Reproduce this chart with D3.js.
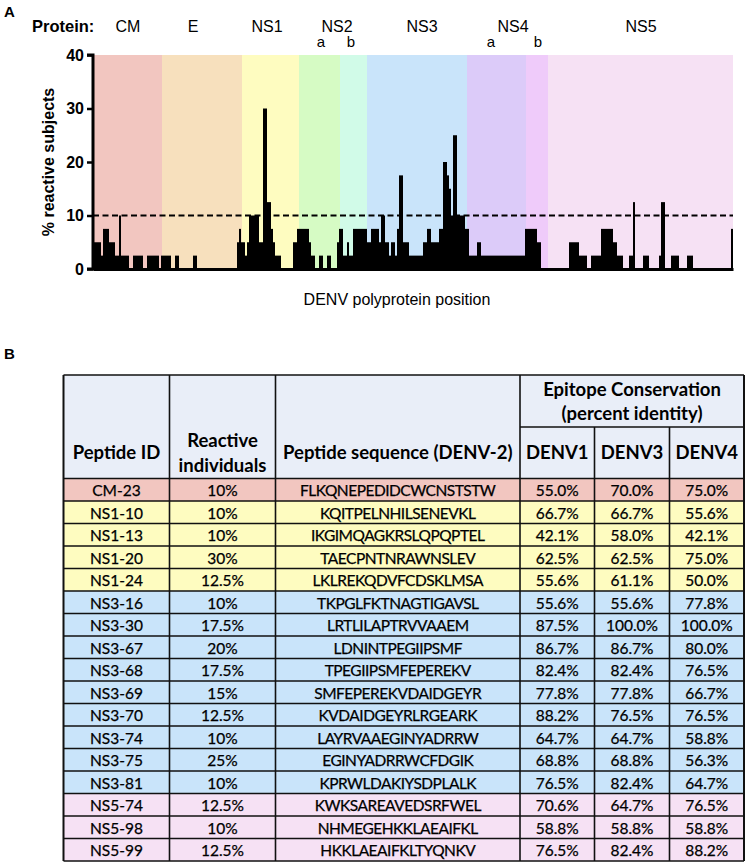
<!DOCTYPE html>
<html>
<head>
<meta charset="utf-8">
<script src="https://cdn.jsdelivr.net/npm/d3@7"></script>
<style>
  body { margin: 0; background: #fff; }
  .axisA text { font-family: "Liberation Sans", Arial, sans-serif; }
  .tbl text { font-family: Lato, "Open Sans", sans-serif; fill: #000; }
</style>
</head>
<body>
<div id="chart"></div>
<script>
// ---------- Panel A data ----------
// protein regions along the peptide index (0..320)
var regionNames = ["CM", "E", "NS1", "NS2a", "NS2b", "NS3", "NS4a", "NS4b", "NS5"];
var regionStart = [0, 34.5, 74.5, 103, 123.5, 137, 187, 216.5, 227.5];
var regionEnd = [34.5, 74.5, 103, 123.5, 137, 187, 216.5, 227.5, 320];
var regionColors = ["#f2c6c0", "#f7e0bd", "#fefcc0", "#d6fbc4", "#d1fbe8", "#c9e4fa", "#dccbf9", "#efcbfa", "#f6e1f4"];

// protein labels above the chart
var proteinLabels = ["CM", "E", "NS1", "NS2", "NS3", "NS4", "NS5"];
var proteinLabelPos = [17.5, 50, 87, 122, 164.5, 210, 274];
var subLabels = ["a", "b", "a", "b"];
var subLabelPos = [114, 129, 199, 222.5];

// % reactive subjects, as steps: value holds from runStart[i] to runStart[i+1]
var runStart = [0,4,5,8,11,13,14,18,20,25,27,33,34,39,41,43,50,52,72,73,74,76,77,78,83,85,87,89,90,91,94,100,102,108,109,111,113,115,117,119,122,123,125,127,128,130,137,139,143,144,146,148,149,151,152,153,155,158,165,167,169,173,175,177,178,179,180,182,186,188,192,194,216,222,224,238,243,247,249,254,260,262,265,268,270,271,275,278,283,284,286,289,293,297,300,319];
var runValue = [5,2.5,7.5,5,2.5,10,2.5,0,2.5,0,2.5,0,2.5,0,2.5,0,2.5,0,5,7.5,5,2.5,5,10,5,30,12.5,7.5,5,2.5,0,5,7.5,5,2.5,0,2.5,0,2.5,0,5,7.5,2.5,5,2.5,7.5,5,7.5,5,10,5,2.5,5,2.5,7.5,17.5,5,2.5,5,7.5,5,7.5,20,17.5,15,10,25,10,7.5,2.5,5,2.5,7.5,5,0,5,2.5,0,2.5,7.5,5,2.5,0,2.5,12.5,0,2.5,0,2.5,12.5,0,2.5,0,2.5,0,7.5];
var lastPosition = 320;
var yTicks = [0, 10, 20, 30, 40];
var threshold = 10;

// ---------- Panel B data ----------
var peptideIds = ["CM-23","NS1-10","NS1-13","NS1-20","NS1-24","NS3-16","NS3-30","NS3-67","NS3-68","NS3-69","NS3-70","NS3-74","NS3-75","NS3-81","NS5-74","NS5-98","NS5-99"];
var reactive = ["10%","10%","10%","30%","12.5%","10%","17.5%","20%","17.5%","15%","12.5%","10%","25%","10%","12.5%","10%","12.5%"];
var sequences = ["FLKQNEPEDIDCWCNSTSTW","KQITPELNHILSENEVKL","IKGIMQAGKRSLQPQPTEL","TAECPNTNRAWNSLEV","LKLREKQDVFCDSKLMSA","TKPGLFKTNAGTIGAVSL","LRTLILAPTRVVAAEM","LDNINTPEGIIPSMF","TPEGIIPSMFEPEREKV","SMFEPEREKVDAIDGEYR","KVDAIDGEYRLRGEARK","LAYRVAAEGINYADRRW","EGINYADRRWCFDGIK","KPRWLDAKIYSDPLALK","KWKSAREAVEDSRFWEL","NHMEGEHKKLAEAIFKL","HKKLAEAIFKLTYQNKV"];
var denv1 = ["55.0%","66.7%","42.1%","62.5%","55.6%","55.6%","87.5%","86.7%","82.4%","77.8%","88.2%","64.7%","68.8%","76.5%","70.6%","58.8%","76.5%"];
var denv3 = ["70.0%","66.7%","58.0%","62.5%","61.1%","55.6%","100.0%","86.7%","82.4%","77.8%","76.5%","64.7%","68.8%","82.4%","64.7%","58.8%","82.4%"];
var denv4 = ["75.0%","55.6%","42.1%","75.0%","50.0%","77.8%","100.0%","80.0%","76.5%","66.7%","76.5%","58.8%","56.3%","64.7%","76.5%","58.8%","88.2%"];
var rowProtein = ["CM","NS1","NS1","NS1","NS1","NS3","NS3","NS3","NS3","NS3","NS3","NS3","NS3","NS3","NS5","NS5","NS5"];

//SVG size
var svgWidth = 749;
var svgHeight = 865;

var svg = d3.select("#chart")
    .append("svg")
    .attr("width", svgWidth)
    .attr("height", svgHeight);

// ================= Panel A =================
var margin = { top: 55, left: 93 };
var chartWidth = 640;
var chartHeight = 214;

var chartGroup = svg.append("g")
    .attr("class", "axisA")
    .attr("transform", `translate(${margin.left}, ${margin.top})`);

var xScale = d3.scaleLinear()
    .domain([0, lastPosition])
    .range([0, chartWidth]);

var yScale = d3.scaleLinear()
    .domain([0, 40])
    .range([chartHeight, 0]);

// coloured protein backgrounds
chartGroup.selectAll(".region")
    .data(regionNames)
    .enter()
    .append("rect")
    .attr("class", "region")
    .attr("x", (d, i) => xScale(regionStart[i]))
    .attr("width", (d, i) => xScale(regionEnd[i]) - xScale(regionStart[i]))
    .attr("y", yScale(40))
    .attr("height", yScale(0) - yScale(40))
    .attr("fill", (d, i) => regionColors[i]);

// bars (steps)
var runs = runStart.map((s, i) => ({
    start: s,
    end: i < runStart.length - 1 ? runStart[i + 1] : lastPosition,
    value: runValue[i]
})).filter(d => d.value > 0);

chartGroup.selectAll(".bar")
    .data(runs)
    .enter()
    .append("rect")
    .attr("class", "bar")
    .attr("x", d => xScale(d.start))
    .attr("width", d => xScale(d.end) - xScale(d.start))
    .attr("y", d => yScale(d.value))
    .attr("height", d => yScale(0) - yScale(d.value))
    .attr("fill", "#000");

// 10% threshold
chartGroup.append("line")
    .attr("x1", 0)
    .attr("x2", chartWidth)
    .attr("y1", yScale(threshold))
    .attr("y2", yScale(threshold))
    .attr("stroke", "#000")
    .attr("stroke-width", 2)
    .attr("stroke-dasharray", "6,3.5");

// axes
var leftAxis = d3.axisLeft(yScale).tickValues(yTicks).tickSize(6).tickPadding(3);
var yAxisG = chartGroup.append("g").call(leftAxis);
yAxisG.select(".domain").attr("stroke-width", 3).attr("d", `M-6,${yScale(40)}H0V${yScale(0)}H-6`);
yAxisG.selectAll(".tick line").attr("stroke-width", 2.5);
yAxisG.selectAll(".tick text")
    .attr("font-size", 16)
    .attr("font-weight", "bold")
    .attr("fill", "#000");

var bottomAxis = d3.axisBottom(xScale).tickValues([]).tickSizeOuter(0);
chartGroup.append("g")
    .attr("transform", `translate(0, ${chartHeight})`)
    .call(bottomAxis)
    .select(".domain")
    .attr("stroke-width", 3);

// axis labels
chartGroup.append("text")
    .attr("transform", "rotate(-90)")
    .attr("x", -chartHeight / 2)
    .attr("y", -39)
    .attr("text-anchor", "middle")
    .attr("font-size", 16)
    .attr("font-weight", "bold")
    .text("% reactive subjects");

chartGroup.append("text")
    .attr("x", chartWidth / 2 - 16)
    .attr("y", chartHeight + 36)
    .attr("text-anchor", "middle")
    .attr("font-size", 16)
    .text("DENV polyprotein position");

// protein labels
chartGroup.append("text")
    .attr("x", -61)
    .attr("y", -23)
    .attr("font-size", 16.5)
    .attr("font-weight", "bold")
    .text("Protein:");

chartGroup.selectAll(".plabel")
    .data(proteinLabels)
    .enter()
    .append("text")
    .attr("class", "plabel")
    .attr("x", (d, i) => xScale(proteinLabelPos[i]))
    .attr("y", -23)
    .attr("text-anchor", "middle")
    .attr("font-size", 16)
    .text(d => d);

chartGroup.selectAll(".slabel")
    .data(subLabels)
    .enter()
    .append("text")
    .attr("class", "slabel")
    .attr("x", (d, i) => xScale(subLabelPos[i]))
    .attr("y", -8)
    .attr("text-anchor", "middle")
    .attr("font-size", 15)
    .text(d => d);

svg.append("text")
    .attr("x", 4)
    .attr("y", 17)
    .attr("font-family", "Liberation Sans, Arial, sans-serif")
    .attr("font-size", 15)
    .attr("font-weight", "bold")
    .text("A");

// ================= Panel B =================
svg.append("text")
    .attr("x", 4)
    .attr("y", 359)
    .attr("font-family", "Liberation Sans, Arial, sans-serif")
    .attr("font-size", 15)
    .attr("font-weight", "bold")
    .text("B");

var tbl = svg.append("g").attr("class", "tbl");
var colEdges = [63.5, 169.5, 275.5, 520, 594.5, 669.5, 744];
var headTop = 375, headMid = 427, headBottom = 478.5, tableBottom = 861;
var headFill = "#e9eef8";
var proteinFill = { CM: "#f2c6c0", NS1: "#fefcc0", NS3: "#c9e4fa", NS5: "#f6e1f4" };

var rowScale = d3.scaleBand()
    .domain(peptideIds)
    .range([headBottom, tableBottom]);

// header background
tbl.append("rect")
    .attr("x", colEdges[0]).attr("y", headTop)
    .attr("width", colEdges[6] - colEdges[0]).attr("height", headBottom - headTop)
    .attr("fill", headFill);

// row backgrounds
tbl.selectAll(".rowbg")
    .data(peptideIds)
    .enter()
    .append("rect")
    .attr("class", "rowbg")
    .attr("x", colEdges[0])
    .attr("y", d => rowScale(d))
    .attr("width", colEdges[6] - colEdges[0])
    .attr("height", rowScale.bandwidth())
    .attr("fill", (d, i) => proteinFill[rowProtein[i]]);

// cell text
var columns = [peptideIds, reactive, sequences, denv1, denv3, denv4];
columns.forEach(function(col, c) {
    var cx = (colEdges[c] + colEdges[c + 1]) / 2;
    tbl.selectAll(".c" + c)
        .data(col)
        .enter()
        .append("text")
        .attr("class", "c" + c)
        .attr("x", cx)
        .attr("y", (d, i) => rowScale(peptideIds[i]) + rowScale.bandwidth() / 2 + 6.5)
        .attr("text-anchor", "middle")
        .attr("font-size", 15.5)
        .attr("letter-spacing", c === 2 ? -0.5 : 0)
        .attr("stroke", "#000")
        .attr("stroke-width", 0.25)
        .text(d => d);
});

// header text
function headText(x, y, s) {
    tbl.append("text")
        .attr("x", x).attr("y", y)
        .attr("text-anchor", "middle")
        .attr("font-size", 18.5)
        .attr("font-weight", "bold")
        .text(s);
}
var mid = (a, b) => (colEdges[a] + colEdges[b]) / 2;
headText(mid(3, 6), 396, "Epitope Conservation");
headText(mid(3, 6), 420, "(percent identity)");
headText(mid(0, 1), 459, "Peptide ID");
headText(mid(1, 2), 447, "Reactive");
headText(mid(1, 2), 472, "individuals");
headText(mid(2, 3), 459, "Peptide sequence (DENV-2)");
headText(mid(3, 4), 459, "DENV1");
headText(mid(4, 5), 459, "DENV3");
headText(mid(5, 6), 459, "DENV4");

// grid lines
var gridColor = "#111";
// horizontal lines
var hLines = [headTop, headMid, headBottom].concat(peptideIds.map(d => rowScale(d) + rowScale.bandwidth()));
tbl.selectAll(".hline")
    .data(hLines)
    .enter()
    .append("line")
    .attr("class", "hline")
    .attr("x1", (d, i) => i === 1 ? colEdges[3] : colEdges[0])
    .attr("x2", colEdges[6])
    .attr("y1", d => d).attr("y2", d => d)
    .attr("stroke", gridColor)
    .attr("stroke-width", 1.6);

// vertical lines
colEdges.forEach(function(x, c) {
    var top = (c === 4 || c === 5) ? headMid : headTop;
    tbl.append("line")
        .attr("x1", x).attr("x2", x)
        .attr("y1", top).attr("y2", tableBottom)
        .attr("stroke", gridColor)
        .attr("stroke-width", (c === 0 || c === 6) ? 2 : 1.6);
});
</script>
</body>
</html>
